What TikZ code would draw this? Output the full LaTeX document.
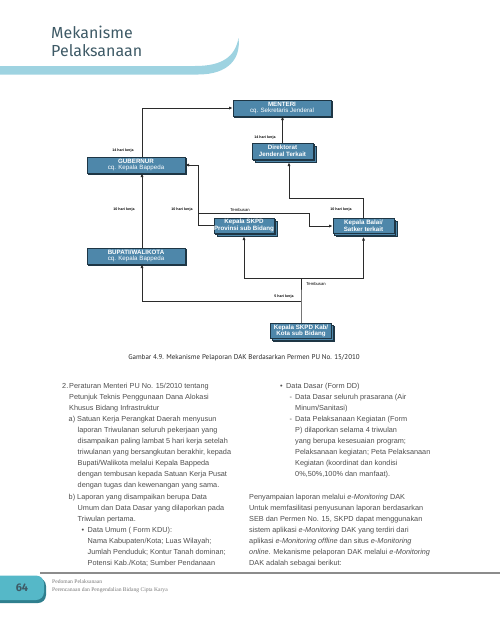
\documentclass[tikz,border=0pt]{standalone}
\usepackage{fontspec}
\setmainfont{Liberation Sans}
\newfontfamily\titlefont{Fira Sans}
\newfontfamily\capfont{PT Sans}
\newfontfamily\footfont{Liberation Serif}
\usetikzlibrary{arrows.meta,shadows}
\definecolor{boxblue}{HTML}{4E87AA}
\definecolor{boxdark}{HTML}{1E3645}
\definecolor{linec}{HTML}{2B2B2B}
\definecolor{titlec}{HTML}{3E5A66}
\definecolor{bandc}{HTML}{9ED3E1}
\definecolor{bodyc}{HTML}{4D4D4D}
\definecolor{tabc}{HTML}{55B8C8}
\definecolor{tabdark}{HTML}{2F7F8E}
\definecolor{footc}{HTML}{777777}
\newcommand{\bl}[4]{\node[body] (#1) at (#2,#3) {#4};}
\begin{document}
\begin{tikzpicture}[x=1pt,y=-1pt,
  box/.style={draw=boxdark, fill=boxblue, line width=0.8pt, text=white, align=center,
    inner sep=0pt, font=\fontsize{6.2}{6.6}\selectfont},
  onebox/.style={box, minimum width=98, minimum height=16,
    copy shadow={shadow xshift=0.9pt, shadow yshift=-0.9pt, fill=boxdark, draw=boxdark, line width=0.8pt}},
  stackbox/.style={box, minimum width=60, minimum height=15,
    copy shadow={shadow xshift=3pt, shadow yshift=-3pt, fill=boxblue, draw=boxdark, line width=0.8pt},
    copy shadow={shadow xshift=1.5pt, shadow yshift=-1.5pt, fill=boxblue, draw=boxdark, line width=0.8pt}},
  conn/.style={draw=linec, line width=0.8pt},
  arr/.style={conn, -{Latex[length=3.6pt,width=3.2pt]}},
  lab/.style={font=\fontsize{3.6}{4}\selectfont\bfseries, inner sep=0pt, text=black},
  tlab/.style={font=\fontsize{4.2}{4.5}\selectfont, inner sep=0pt, text=black},
  body/.style={anchor=base west, inner sep=0pt, text=bodyc, font=\fontsize{7.3}{9}\selectfont},
]
\useasboundingbox (0,0) rectangle (500,625);

% title and band
\node[anchor=base west, inner sep=0pt, text=titlec, font=\titlefont\fontsize{16}{17}\selectfont] (t1) at (51,38.5) {Mekanisme};
\node[anchor=base west, inner sep=0pt, text=titlec, font=\titlefont\fontsize{16}{17}\selectfont] (t2) at (51,56.5) {Pelaksanaan};
\fill[bandc] (0,66) -- (195,66) .. controls (222,66) and (235,57) .. (238.5,38)
  .. controls (241,58) and (229,74.5) .. (198,74.5) -- (0,74.5) -- cycle;

% boxes
\node[onebox] (menteri) at (282,108) {\textbf{MENTERI}\\cq. Sekretaris Jenderal};
\node[onebox] (gub) at (136,165) {\textbf{GUBERNUR}\\cq. Kepala Bappeda};
\node[onebox] (bupati) at (136,256) {\textbf{BUPATI/WALIKOTA}\\cq. Kepala Bappeda};
\node[stackbox, minimum width=61, minimum height=16] (dirjen) at (282.5,151) {\textbf{Direktorat}\\\textbf{Jenderal Terkait}};
\node[stackbox] (prov) at (244,225.5) {\textbf{Kepala SKPD}\\\textbf{Provinsi sub Bidang}};
\node[stackbox, minimum width=61] (balai) at (363.5,226) {\textbf{Kepala Balai/}\\\textbf{Satker terkait}};
\node[stackbox, minimum width=61] (kab) at (301,331) {\textbf{Kepala SKPD Kab/}\\\textbf{Kota sub Bidang}};

% junctions
\coordinate (tb) at (199,213);
\coordinate (bend) at (309,213);
\coordinate (j1) at (301,278);
\coordinate (j2) at (301,301);

% connectors
\draw[arr] ([xshift=6pt]gub.north) |- (menteri.west);
\draw[arr] (dirjen.north) -- (dirjen.north |- menteri.south);
\draw[arr] ([xshift=6pt]bupati.north) -- ([xshift=6pt]gub.south);
\draw[arr] (prov.west) -- ++(-15,0) |- (gub.east);
\draw[arr] (tb) -- (bend) |- (balai.west);
\draw[arr] (balai.north) -- ++(0,-20) -| ([xshift=6.5pt,yshift=-3pt]dirjen.south);
\draw[conn] (kab.north) -- (j2) -- (j1);
\draw[arr] (j1) -| ([yshift=-3pt]prov.south);
\draw[arr] (j1) -| ([yshift=-3pt]balai.south);
\draw[arr] (j2) -| ([xshift=6pt]bupati.south);

% labels
\node[lab] (l1) at (123,151) {14 hari kerja};
\node[lab] (l2) at (265,138) {14 hari kerja};
\node[lab] (l3) at (124,210) {10 hari kerja};
\node[lab] (l4) at (182,210) {10 hari kerja};
\node[tlab] (l5) at (240,209.5) {Tembusan};
\node[lab] (l6) at (341,210) {10 hari kerja};
\node[tlab] (l7) at (316,284) {Tembusan};
\node[lab] (l8) at (284,297) {5 hari kerja};

% caption
\node[inner sep=0pt, text=black!85, font=\capfont\fontsize{7}{8}\selectfont] (cap) at (244,358) {Gambar 4.9. Mekanisme Pelaporan DAK Berdasarkan Permen PU No. 15/2010};

% left column
\bl{a1}{62}{388}{2.}
\bl{a1b}{69}{388}{Peraturan Menteri PU No. 15/2010 tentang}
\bl{a2}{69}{399.1}{Petunjuk Teknis Penggunaan Dana Alokasi}
\bl{a3}{69}{410.2}{Khusus Bidang Infrastruktur}
\bl{a4}{68.5}{421.3}{a) Satuan Kerja Perangkat Daerah menyusun}
\bl{a5}{77.5}{432.4}{laporan Triwulanan seluruh pekerjaan yang}
\bl{a6}{77.5}{443.5}{disampaikan paling lambat 5 hari kerja setelah}
\bl{a7}{77.5}{454.6}{triwulanan yang bersangkutan berakhir, kepada}
\bl{a8}{77.5}{465.7}{Bupati/Walikota melalui Kepala Bappeda}
\bl{a9}{77.5}{476.8}{dengan tembusan kepada Satuan Kerja Pusat}
\bl{a10}{77.5}{487.9}{dengan tugas dan kewenangan yang sama.}
\bl{a11}{68.5}{499}{b) Laporan yang disampaikan berupa Data}
\bl{a12}{77.5}{510.1}{Umum dan Data Dasar yang dilaporkan pada}
\bl{a13}{77.5}{521.2}{Triwulan pertama.}
\bl{a14}{81.5}{532.3}{•}
\bl{a14b}{87.5}{532.3}{Data Umum ( Form KDU):}
\bl{a15}{87.5}{543.4}{Nama Kabupaten/Kota; Luas Wilayah;}
\bl{a16}{87.5}{554.5}{Jumlah Penduduk; Kontur Tanah dominan;}
\bl{a17}{87.5}{565.6}{Potensi Kab./Kota; Sumber Pendanaan}

% right column
\bl{b1}{280}{388}{•}
\bl{b1b}{286}{388}{Data Dasar (Form DD)}
\bl{b2}{289.5}{399.1}{-}
\bl{b2b}{295}{399.1}{Data Dasar seluruh prasarana (Air}
\bl{b3}{295}{410.2}{Minum/Sanitasi)}
\bl{b4}{289.5}{421.3}{-}
\bl{b4b}{295}{421.3}{Data Pelaksanaan Kegiatan (Form}
\bl{b5}{295}{432.4}{P) dilaporkan selama 4 triwulan}
\bl{b6}{295}{443.5}{yang berupa kesesuaian program;}
\bl{b7}{295}{454.6}{Pelaksanaan kegiatan; Peta Pelaksanaan}
\bl{b8}{295}{465.7}{Kegiatan (koordinat dan kondisi}
\bl{b9}{295}{476.8}{0\%,50\%,100\% dan manfaat).}
\bl{b11}{249}{499}{Penyampaian laporan melalui \textit{e-Monitoring} DAK}
\bl{b12}{249}{510.1}{Untuk memfasilitasi penyusunan laporan berdasarkan}
\bl{b13}{249}{521.2}{SEB dan Permen No. 15, SKPD dapat menggunakan}
\bl{b14}{249}{532.3}{sistem aplikasi \textit{e-Monitoring} DAK yang terdiri dari}
\bl{b15}{249}{543.4}{aplikasi \textit{e-Monitoring offline} dan situs \textit{e-Monitoring}}
\bl{b16}{249}{554.5}{\textit{online}. Mekanisme pelaporan DAK melalui \textit{e-Monitoring}}
\bl{b17}{249}{565.6}{DAK adalah sebagai berikut:}

% footer
\draw[line width=1.2pt, draw=black!45] (40,573) -- (500,573);
\fill[tabdark, rounded corners=8pt] (-12,578) rectangle (46,603);
\fill[tabc, rounded corners=8pt] (-12,575.5) rectangle (44,600);
\node[inner sep=0pt, text=titlec, font=\titlefont\bfseries\fontsize{11}{11}\selectfont] (pg) at (22,588) {64};
\node[anchor=base west, inner sep=0pt, text=footc, font=\footfont\fontsize{5.6}{6}\selectfont] (f1) at (52,583) {Pedoman Pelaksanaan};
\node[anchor=base west, inner sep=0pt, text=footc, font=\footfont\fontsize{5.6}{6}\selectfont] (f2) at (52,591) {Perencanaan dan Pengendalian Bidang Cipta Karya};
\end{tikzpicture}
\end{document}
